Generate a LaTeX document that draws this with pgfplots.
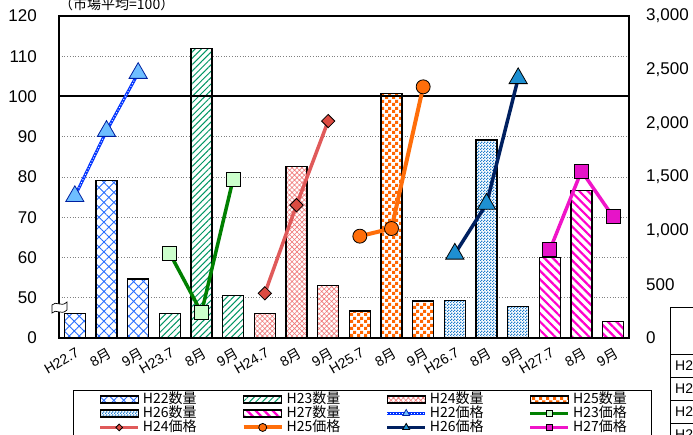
\documentclass[border=0pt]{standalone}
\usepackage{fontspec}
\setmainfont{Liberation Sans}
\newfontfamily\cjk{Noto Sans CJK JP}
\usepackage{pgfplots}
\pgfplotsset{compat=1.18}
\usetikzlibrary{patterns,patterns.meta}

\pgfdeclarepatternformonly{bigcheck}{\pgfpointorigin}{\pgfqpoint{7pt}{7pt}}{\pgfqpoint{7pt}{7pt}}{%
 \pgfpathrectangle{\pgfpointorigin}{\pgfqpoint{3.5pt}{3.5pt}}%
 \pgfpathrectangle{\pgfqpoint{3.5pt}{3.5pt}}{\pgfqpoint{3.5pt}{3.5pt}}%
 \pgfusepath{fill}}
\pgfdeclarepatternformonly{smallcheck}{\pgfpointorigin}{\pgfqpoint{3pt}{3pt}}{\pgfqpoint{3pt}{3pt}}{%
 \pgfpathrectangle{\pgfpointorigin}{\pgfqpoint{1.6pt}{1.6pt}}%
 \pgfpathrectangle{\pgfqpoint{1.5pt}{1.5pt}}{\pgfqpoint{1.6pt}{1.6pt}}%
 \pgfusepath{fill}}

\definecolor{c22}{RGB}{40,110,255}
\definecolor{c23}{RGB}{0,150,100}
\definecolor{c24}{RGB}{240,120,120}
\definecolor{c25}{RGB}{255,102,0}
\definecolor{c26}{RGB}{30,125,205}
\definecolor{c27}{RGB}{255,0,204}
\definecolor{p22}{RGB}{0,51,255}
\definecolor{p22f}{RGB}{110,190,255}
\definecolor{p22e}{RGB}{0,32,160}
\definecolor{p23}{RGB}{0,128,0}
\definecolor{p23f}{RGB}{204,255,204}
\definecolor{p24}{RGB}{224,90,90}
\definecolor{p24f}{RGB}{220,75,65}
\definecolor{p25}{RGB}{255,110,10}
\definecolor{p26}{RGB}{0,32,96}
\definecolor{p26f}{RGB}{30,144,210}
\definecolor{p27}{RGB}{240,20,200}
\definecolor{p27f}{RGB}{230,20,200}

\pgfplotsset{
 base/.style={at={(59pt,97pt)}, anchor=south west, scale only axis,
   width=570pt, height=322pt, xmin=-0.5, xmax=17.5},
 barleg/.style={legend image code/.code={\draw[##1] (0pt,-3.5pt) rectangle (38pt,3.5pt);}},
 lineleg/.style={legend image code/.code={\draw[##1, mark repeat=2, mark phase=2, mark size=#1] plot coordinates {(0pt,0pt) (19pt,0pt) (38pt,0pt)};}},
 barbase/.style={ybar, bar width=21pt, bar shift=0pt, draw=black, line width=1.3pt, preaction={fill=white}},
 bar22/.style={barbase, pattern={Hatch[angle=45,distance=7pt,line width=0.9pt]}, pattern color=c22},
 bar23/.style={barbase, pattern={Lines[angle=45,distance=4.5pt,line width=1pt]}, pattern color=c23},
 bar24/.style={barbase, pattern={Hatch[angle=45,distance=3.5pt,line width=0.6pt]}, pattern color=c24},
 bar25/.style={barbase, pattern=bigcheck, pattern color=c25},
 bar26/.style={barbase, pattern=smallcheck, pattern color=c26},
 bar27/.style={barbase, pattern={Lines[angle=-45,distance=6pt,line width=2.2pt]}, pattern color=c27},
 pr23/.style={p23, line width=3.5pt, mark=square*, mark size=7pt, mark options={fill=p23f, draw=black, line width=0.8pt, solid}},
 pr24/.style={p24, line width=3.5pt, mark=square*, mark size=4.7pt, mark options={fill=p24f, draw=black, line width=0.8pt, rotate=45, solid}},
 pr25/.style={p25, line width=4pt, mark=*, mark size=7pt, mark options={fill=p25, draw=black, line width=0.8pt, solid}},
 pr26/.style={p26, line width=3.5pt, mark=triangle*, mark size=10.5pt, mark options={fill=p26f, draw=black, line width=0.8pt, solid}},
 pr27/.style={p27, line width=3.5pt, mark=square*, mark size=7pt, mark options={fill=p27f, draw=black, line width=0.8pt, solid}},
 leg22/.style={legend image code/.code={%
   \draw[p22, line width=3pt] (0pt,0pt) -- (38pt,0pt);
   \draw[white, line width=0.9pt, dash pattern=on 1pt off 2pt] (0pt,0pt) -- (38pt,0pt);
   \draw[draw=none, mark=triangle*, mark size=4pt, mark options={fill=p22f, draw=p22e, line width=0.7pt}] plot coordinates {(19pt,0pt)};}},
}

\begin{document}
\begin{tikzpicture}
\path[use as bounding box] (0pt,0pt) rectangle (693pt,435pt);

% axis A: left scale, grid, frame, x labels
\begin{axis}[base,
  ymin=40, ymax=120,
  ytick={40,50,...,120}, yticklabels={0,50,60,70,80,90,100,110,120},
  xtick={0,...,17},
  xticklabels={H22.7,8{\cjk 月},9{\cjk 月},H23.7,8{\cjk 月},9{\cjk 月},H24.7,8{\cjk 月},9{\cjk 月},H25.7,8{\cjk 月},9{\cjk 月},H26.7,8{\cjk 月},9{\cjk 月},H27.7,8{\cjk 月},9{\cjk 月}},
  major tick length=0pt,
  axis line style={line width=1.5pt, black},
  ymajorgrids, grid style={gray, line width=0.7pt, dotted},
  yticklabel style={font=\fontsize{17pt}{17pt}\selectfont, anchor=east, inner sep=0pt, xshift=-22pt},
  xticklabel style={font=\fontsize{14pt}{14pt}\selectfont, rotate=30, anchor=north east, inner sep=0pt, yshift=-8pt, xshift=-4pt},
]
\addplot[draw=none, forget plot] coordinates {(0,50)};
\end{axis}

% axis B: right scale, quantity bars
\begin{axis}[base,
  ymin=0, ymax=3000,
  axis y line*=right, axis x line=none,
  ytick={0,500,...,3000}, yticklabels={0,500,{1,000},{1,500},{2,000},{2,500},{3,000}},
  major tick length=0pt,
  axis line style={line width=1.5pt, black},
  yticklabel style={font=\fontsize{17pt}{17pt}\selectfont, anchor=west, inner sep=0pt, xshift=17pt},
]
\addplot[bar22] coordinates {(0,231) (1,1467) (2,551)};
\addplot[bar23] coordinates {(3,231) (4,2698) (5,396)};
\addplot[bar24] coordinates {(6,227) (7,1601) (8,489)};
\addplot[bar25] coordinates {(9,252) (10,2280) (11,346)};
\addplot[bar26] coordinates {(12,352) (13,1844) (14,296)};
\addplot[bar27] coordinates {(15,748) (16,1374) (17,152)};
\end{axis}

% axis C: left scale, price lines and legend
\begin{axis}[base,
  ymin=40, ymax=120, hide axis,
  legend columns=4, legend cell align=left,
  legend style={
    at={(rel axis cs:0.0246,-0.1615)}, anchor=north west,
    draw=black, line width=0.9pt, fill=white,
    inner xsep=25pt, inner ysep=2.5pt,
    font=\cjk\fontsize{14pt}{14pt}\selectfont,
    nodes={inner sep=0pt, text height=10.5pt, text depth=2.5pt},
    row sep=1pt,
    /tikz/every odd column/.append style={column sep=3pt},
    /tikz/every even column/.append style={column sep=45pt},
  },
]
\addplot[black, line width=2pt, forget plot] coordinates {(-0.5,100) (17.5,100)};

\addplot[p22, line width=3pt, forget plot] coordinates {(0,75.2) (1,91.4) (2,105.8)};
\addplot[white, line width=0.9pt, dash pattern=on 1pt off 2pt, forget plot] coordinates {(0,75.2) (1,91.4) (2,105.8)};
\addplot[only marks, mark=triangle*, mark size=10.5pt, mark options={fill=p22f, draw=p22e, line width=0.8pt}, forget plot] coordinates {(0,75.2) (1,91.4) (2,105.8)};
\addplot[pr23, forget plot] coordinates {(3,61) (4,46.3) (5,79.5)};
\addplot[pr24, forget plot] coordinates {(6,51.1) (7,73) (8,93.9)};
\addplot[pr25, forget plot] coordinates {(9,65.3) (10,67.2) (11,102.4)};
\addplot[pr26, forget plot] coordinates {(12,60.9) (13,73.3) (14,104.5)};
\addplot[pr27, forget plot] coordinates {(15,61.9) (16,81.5) (17,70.1)};

\addlegendimage{bar22, barleg}\addlegendentry{H22数量}
\addlegendimage{bar23, barleg}\addlegendentry{H23数量}
\addlegendimage{bar24, barleg}\addlegendentry{H24数量}
\addlegendimage{bar25, barleg}\addlegendentry{H25数量}
\addlegendimage{bar26, barleg}\addlegendentry{H26数量}
\addlegendimage{bar27, barleg}\addlegendentry{H27数量}
\addlegendimage{leg22}\addlegendentry{H22価格}
\addlegendimage{pr23, lineleg=3pt}\addlegendentry{H23価格}
\addlegendimage{pr24, lineleg=2.4pt}\addlegendentry{H24価格}
\addlegendimage{pr25, lineleg=4pt}\addlegendentry{H25価格}
\addlegendimage{pr26, lineleg=4pt}\addlegendentry{H26価格}
\addlegendimage{pr27, lineleg=3pt}\addlegendentry{H27価格}
\end{axis}

% title
\node[anchor=base west, inner sep=0pt, font=\cjk\fontsize{14pt}{14pt}\selectfont] at (59pt,425pt) {（市場平均=100）};

% axis break mark
\draw[fill=white, line width=0.7pt] (52pt,130pt) .. controls (56pt,135pt) and (61pt,127pt) .. (67pt,133pt)
  -- (67pt,125pt) .. controls (61pt,119pt) and (56pt,127pt) .. (52pt,122pt) -- cycle;

% data table at the right (partly outside the picture)
\draw[line width=0.8pt] (730pt,128pt) -- (670pt,128pt) -- (670pt,-20pt);
\foreach \yy in {81,58,35,12} {\draw[line width=0.8pt] (670pt,\yy pt) -- (730pt,\yy pt);}
\foreach \yy/\tt in {69.5/H22,46.5/H23,23.5/H24,0.5/H25} {\node[anchor=west, inner sep=0pt, font=\fontsize{14pt}{14pt}\selectfont] at (675pt,\yy pt) {\tt};}
\end{tikzpicture}
\end{document}
